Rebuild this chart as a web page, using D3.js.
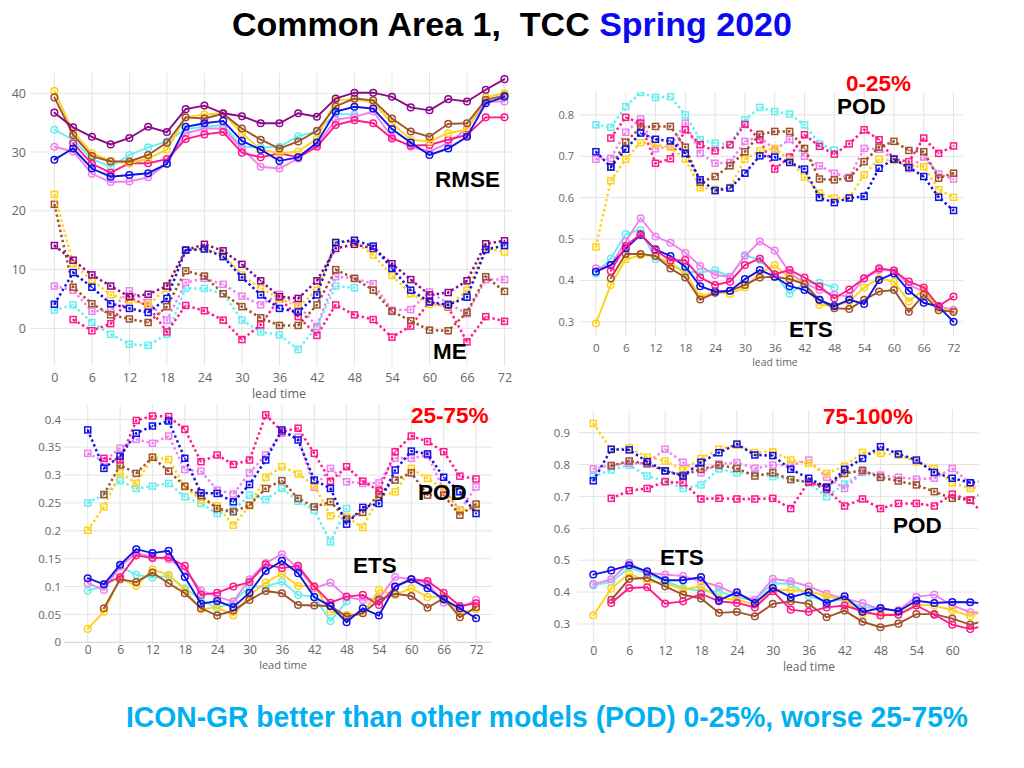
<!DOCTYPE html>
<html><head><meta charset="utf-8">
<script src="https://cdn.jsdelivr.net/npm/d3@7"></script>
<style>body{margin:0;background:#fff}</style>
</head><body>
<svg id="c" width="1024" height="768"></svg>
<script>
// ---------- DATA ----------
const hours  = [0,3,6,9,12,15,18,21,24,27,30,33,36,39,42,45,48,51,54,57,60,63,66,69,72];
const hoursD = [0,3,6,9,12,15,18,21,24,27,30,33,36,39,42,45,48,51,54,57,60,63,66];
const ticksX72 = [0,6,12,18,24,30,36,42,48,54,60,66,72];
const ticksX60 = [0,6,12,18,24,30,36,42,48,54,60];
const ticksA = [0,10,20,30,40];
const ticksB = [0.3,0.4,0.5,0.6,0.7,0.8];
const ticksC = [0,0.05,0.1,0.15,0.2,0.25,0.3,0.35,0.4];
const ticksD = [0.3,0.4,0.5,0.6,0.7,0.8,0.9];

// Panel A: RMSE (solid) and ME (dotted)
const A_rmse_yellow   = [40.4,33.5,29.8,28.5,28.1,28.9,30.4,35.9,36.4,36.6,33.2,30.4,29.8,30.1,32.3,38.8,39.0,38.4,34.9,32.1,31.8,33.2,33.8,39.3,40.0];
const A_rmse_brown    = [39.3,32.9,29.3,28.4,28.4,29.5,31.6,35.9,35.7,36.5,34.0,32.1,30.6,31.8,33.6,37.8,39.1,38.8,35.7,33.5,32.6,34.8,34.9,38.9,39.6];
const A_rmse_purple   = [36.7,34.2,32.6,31.3,32.4,34.3,33.4,37.3,37.9,36.6,36.1,34.9,34.9,36.6,36.0,39.1,40.1,40.1,39.4,37.6,37.1,39.0,38.6,40.6,42.4];
const A_rmse_cyan     = [33.8,32.1,28.8,27.5,29.5,30.8,31.8,33.9,34.3,34.6,30.9,30.8,30.9,32.7,33.5,36.5,36.4,null,null,null,null,null,null,null,null];
const A_rmse_violet   = [30.9,30.1,26.3,24.9,25.0,25.7,28.0,33.2,34.0,34.0,30.6,27.5,27.2,28.9,31.2,35.5,36.0,36.9,32.6,30.9,30.1,31.5,34.0,38.6,38.6];
const A_rmse_blue     = [28.7,30.6,27.2,25.8,26.1,26.4,28.0,34.3,34.9,35.3,31.9,30.4,28.5,29.1,31.6,36.9,37.7,37.4,33.9,31.6,29.5,30.6,32.6,38.3,39.4];
const A_rmse_deeppink = [null,31.5,28.0,26.5,28.1,28.1,28.8,32.2,33.0,33.4,29.9,29.1,29.8,29.1,30.9,34.6,35.4,34.9,32.3,31.1,31.2,32.1,32.9,35.9,35.9];

const A_me_yellow   = [22.8,11.0,8.2,5.7,4.8,4.0,6.8,13.3,13.6,12.5,9.1,6.8,5.1,3.7,6.5,14.7,14.7,12.5,9.0,5.9,4.1,3.7,6.5,13.6,13.0];
const A_me_brown    = [21.1,7.0,4.2,2.3,1.6,1.0,3.7,9.8,8.9,5.9,3.7,1.8,0.5,0.5,4.0,10.0,8.5,6.5,2.9,1.3,-0.3,-0.4,2.7,8.8,6.3];
const A_me_purple   = [14.1,11.6,9.1,7.2,5.4,5.8,7.2,13.3,14.3,13.2,10.9,8.1,5.4,5.1,8.1,13.6,14.3,13.6,11.0,8.3,5.7,6.1,8.1,14.4,14.9];
const A_me_blue     = [4.1,9.5,7.0,4.2,3.4,2.7,5.1,13.3,13.5,12.2,8.7,5.7,3.4,2.8,5.7,14.6,15.0,14.0,10.2,6.5,4.5,4.0,5.3,13.4,14.1];
const A_me_violet   = [7.2,6.5,2.9,3.1,6.4,4.4,1.4,7.8,8.5,7.5,5.5,4.0,5.8,4.0,0.3,8.8,8.5,7.6,3.1,3.2,6.2,4.2,2.5,8.3,8.3];
const A_me_cyan     = [3.1,4.0,1.0,-1.0,-2.7,-2.9,-1.0,6.8,6.8,5.9,1.4,-0.6,-1.1,-3.6,0.3,7.2,6.9,null,null,null,null,null,null,null,null];
const A_me_deeppink = [null,1.5,-0.4,0.8,5.3,3.8,-0.6,3.9,3.0,1.4,-1.9,0.6,5.1,2.0,-1.2,4.0,2.3,1.5,-1.5,0.4,4.5,3.6,-2.3,2.0,1.2];

// Panel B: 0-25%  POD (dotted) and ETS (solid)
const B_pod_cyan     = [0.776,0.770,0.820,0.854,0.842,0.844,0.800,0.740,0.732,0.728,0.788,0.818,0.808,0.802,0.776,0.730,0.715,null,null,null,null,null,null,null,null];
const B_pod_deeppink = [null,0.744,0.794,0.780,0.683,0.694,0.764,0.728,0.713,0.728,0.777,0.740,0.669,0.698,0.752,0.724,0.705,0.730,0.764,0.740,0.693,0.687,0.744,0.707,0.725];
const B_pod_violet   = [0.693,0.695,0.758,0.790,0.718,0.724,0.780,0.707,0.683,0.685,0.736,0.748,0.715,0.741,0.700,0.677,0.659,0.649,0.719,0.717,0.693,0.670,0.698,0.657,0.645];
const B_pod_brown    = [null,0.674,0.734,0.770,0.772,0.772,0.722,0.637,0.651,0.677,0.711,0.753,0.760,0.760,0.719,0.645,0.643,0.647,0.687,0.722,0.736,0.714,0.711,0.647,0.659];
const B_pod_blue     = [0.711,0.674,0.717,0.756,0.741,0.737,0.707,0.643,0.617,0.623,0.659,0.701,0.698,0.685,0.669,0.600,0.588,0.599,0.603,0.671,0.693,0.673,0.651,0.601,0.569];
const B_pod_yellow   = [0.481,0.641,0.693,0.733,0.728,0.722,0.693,0.624,0.620,0.625,0.693,0.713,0.719,0.690,0.650,0.611,0.599,0.600,0.655,0.693,0.690,0.675,0.675,0.619,0.601];

const B_ets_yellow   = [0.296,0.389,0.451,0.461,0.459,0.441,0.417,0.361,0.373,0.367,0.383,0.417,0.437,0.405,0.393,0.341,0.338,0.349,0.383,0.405,0.397,0.349,0.377,0.333,0.324];
const B_ets_brown    = [null,0.405,0.464,0.464,0.459,0.429,0.407,0.354,0.370,0.375,0.389,0.407,0.409,0.403,0.391,0.353,0.333,0.331,0.353,0.373,0.377,0.324,0.365,0.328,0.324];
const B_ets_blue     = [0.421,0.437,0.477,0.510,0.475,0.459,0.433,0.386,0.373,0.375,0.403,0.425,0.409,0.386,0.377,0.353,0.338,0.353,0.343,0.401,0.417,0.375,0.346,0.337,0.300];
const B_ets_cyan     = [0.417,0.453,0.512,0.522,0.451,0.441,0.421,0.419,0.425,0.409,0.461,0.449,0.415,0.368,0.393,0.394,0.383,null,null,null,null,null,null,null,null];
const B_ets_violet   = [0.429,0.437,0.494,0.550,0.506,0.491,0.467,0.435,0.413,0.409,0.459,0.494,0.472,0.419,0.393,0.377,0.365,0.361,0.405,0.425,0.424,0.389,0.373,0.337,0.329];
const B_ets_deeppink = [null,0.423,0.483,0.512,0.473,0.448,0.449,0.407,0.389,0.397,0.437,0.453,0.415,0.425,0.407,0.385,0.357,0.378,0.405,0.429,0.424,0.397,0.383,0.338,0.361];

// Panel C: 25-75%
const C_pod_blue     = [0.381,0.312,0.334,0.375,0.388,0.397,0.330,0.268,0.267,0.252,0.283,0.327,0.381,0.363,0.291,0.276,0.212,0.242,0.249,0.309,0.343,0.338,0.296,0.270,0.231];
const C_pod_deeppink = [null,0.330,0.327,0.398,0.406,0.405,0.382,0.324,0.336,0.319,0.327,0.408,0.378,0.384,0.339,0.289,0.315,0.289,0.272,0.342,0.370,0.360,0.342,0.298,0.293];
const C_pod_violet   = [0.339,0.325,0.348,0.364,0.357,0.370,0.310,0.307,0.273,0.266,0.304,0.336,0.375,0.368,0.278,0.312,0.288,0.285,0.286,0.330,0.330,0.336,0.273,0.237,0.279];
const C_pod_yellow   = [0.201,0.243,0.304,0.285,0.332,0.328,0.279,0.255,0.245,0.210,0.245,0.296,0.315,0.302,0.282,0.227,0.225,0.206,0.261,0.270,0.312,0.294,0.276,0.237,0.240];
const C_pod_brown    = [null,0.265,0.318,0.303,0.332,0.307,0.280,0.263,0.240,0.234,0.246,0.276,0.290,0.258,0.243,0.252,0.221,0.233,0.265,0.291,0.304,0.264,0.264,0.228,0.248];
const C_pod_cyan     = [0.250,0.265,0.290,0.276,0.280,0.285,0.261,0.249,0.231,0.237,0.264,0.256,0.276,0.253,0.237,0.180,0.240,null,null,null,null,null,null,null,null];

const C_ets_blue     = [0.115,0.104,0.139,0.167,0.160,0.164,0.117,0.069,0.074,0.063,0.089,0.128,0.146,0.124,0.081,0.065,0.036,0.061,0.048,0.100,0.113,0.097,0.077,0.061,0.043];
const C_ets_deeppink = [null,0.104,0.117,0.156,0.151,0.152,0.137,0.085,0.089,0.100,0.108,0.140,0.133,0.137,0.100,0.071,0.082,0.085,0.067,0.100,0.113,0.110,0.089,0.065,0.070];
const C_ets_violet   = [0.106,0.094,0.136,0.160,0.153,0.149,0.130,0.093,0.082,0.073,0.113,0.142,0.158,0.133,0.097,0.107,0.081,0.076,0.079,0.117,0.113,0.106,0.071,0.061,0.076];
const C_ets_yellow   = [0.024,0.055,0.115,0.101,0.131,0.121,0.094,0.059,0.063,0.048,0.085,0.107,0.123,0.101,0.101,0.055,0.049,0.052,0.094,0.085,0.097,0.081,0.082,0.052,0.059];
const C_ets_brown    = [null,0.061,0.113,0.108,0.125,0.106,0.088,0.061,0.048,0.057,0.076,0.092,0.088,0.067,0.066,0.065,0.046,0.052,0.076,0.087,0.083,0.062,0.079,0.045,0.063];
const C_ets_cyan     = [0.093,0.100,0.136,0.121,0.116,0.119,0.097,0.077,0.061,0.073,0.100,0.100,0.109,0.085,0.082,0.038,0.073,null,null,null,null,null,null,null,null];

// Panel D: 75-100%
const D_pod_yellow   = [0.929,0.846,0.853,0.823,0.811,0.783,0.819,0.848,0.861,0.838,0.840,0.814,0.804,0.772,0.795,0.838,0.835,0.830,0.809,0.788,0.743,0.725,0.735];
const D_pod_blue     = [0.749,0.848,0.846,0.809,0.780,0.764,0.807,0.837,0.864,0.830,0.828,0.785,0.757,0.728,0.785,0.819,0.856,0.833,0.814,0.775,0.757,0.743,0.750];
const D_pod_brown    = [null,0.796,0.811,0.802,0.780,0.767,0.785,0.798,0.788,0.764,0.774,0.753,0.745,0.730,0.772,0.782,0.760,0.748,0.736,0.715,0.694,0.689,0.720];
const D_pod_violet   = [0.786,0.798,0.804,0.804,0.848,0.807,0.774,0.802,0.806,0.788,0.798,0.798,0.814,0.760,0.725,0.777,0.767,0.760,0.754,0.757,0.788,0.741,0.728];
const D_pod_cyan     = [0.762,0.783,0.798,0.764,0.748,0.725,0.736,0.786,0.774,0.772,0.762,0.753,0.743,0.699,0.739,0.775,0.759,null,null,null,null,null,null];
const D_pod_deeppink = [null,0.694,0.718,0.725,0.746,0.743,0.692,0.694,0.692,0.692,0.694,0.662,0.746,0.722,0.670,0.692,0.662,0.678,0.678,0.670,0.707,0.688,0.630];

const D_ets_blue     = [0.455,0.468,0.484,0.465,0.437,0.437,0.447,0.374,0.399,0.366,0.413,0.384,0.399,0.366,0.387,0.338,0.350,0.340,0.373,0.366,0.369,0.368,0.364];
const D_ets_violet   = [0.425,0.440,0.492,0.460,0.455,0.450,0.434,0.418,0.392,0.376,0.442,0.434,0.418,0.395,0.379,0.366,0.345,0.343,0.385,0.392,0.358,0.337,0.335];
const D_ets_cyan     = [0.421,0.432,0.476,0.458,0.434,0.413,0.403,0.403,0.382,0.376,0.427,0.427,0.387,0.371,0.376,0.353,0.350,null,null,null,null,null,null];
const D_ets_yellow   = [0.327,0.411,0.458,0.434,0.429,0.408,0.418,0.382,0.376,0.361,0.408,0.406,0.403,0.387,0.376,0.331,0.331,0.331,0.361,0.358,0.343,0.324,0.345];
const D_ets_brown    = [null,0.376,0.441,0.445,0.418,0.392,0.380,0.335,0.338,0.324,0.363,0.371,0.363,0.321,0.342,0.307,0.290,0.301,0.331,0.331,0.317,0.298,0.313];
const D_ets_deeppink = [null,0.366,0.413,0.415,0.364,0.371,0.395,0.371,0.366,0.352,0.403,0.345,0.338,0.352,0.358,0.340,0.327,0.329,0.358,0.329,0.298,0.284,0.298];

// ---------- STYLE ----------
const COL = {yellow:'#FFD21A', brown:'#A0522D', purple:'#8B0A8B', cyan:'#66EEF0',
             violet:'#EE82EE', blue:'#1212E6', deeppink:'#FF1A8C'};
const svg = d3.select('#c');
const FONT = '"Open Sans", "DejaVu Sans", sans-serif';
const BOLD = '"Liberation Sans", Arial, sans-serif';

let clipId = 0;
function panel(cfg){
  const x = d3.scaleLinear().domain(cfg.xdom).range([cfg.x0, cfg.x1]);
  const y = d3.scaleLinear().domain(cfg.ydom).range([cfg.y1, cfg.y0]);
  const g = svg.append('g');
  const id = 'clip' + (clipId++);
  svg.append('clipPath').attr('id', id).append('rect')
    .attr('x', cfg.x0).attr('y', cfg.y0).attr('width', cfg.x1 - cfg.x0).attr('height', cfg.y1 - cfg.y0);

  // grid
  g.append('g').selectAll('line').data(cfg.xticks).join('line')
    .attr('x1', d => x(d)).attr('x2', d => x(d)).attr('y1', cfg.y0).attr('y2', cfg.y1)
    .attr('stroke', '#e4e4e4').attr('stroke-width', 1);
  g.append('g').selectAll('line').data(cfg.yticks).join('line')
    .attr('x1', cfg.x0).attr('x2', cfg.x1).attr('y1', d => y(d)).attr('y2', d => y(d))
    .attr('stroke', d => d === 0 ? cfg.zeroColor || '#e4e4e4' : '#e4e4e4').attr('stroke-width', 1);

  // axes
  const ya = g.append('g').attr('transform', `translate(${cfg.yLabelX},0)`)
    .call(d3.axisLeft(y).tickValues(cfg.yticks).tickSize(0).tickPadding(0).tickFormat(cfg.yfmt));
  ya.select('.domain').remove();
  ya.selectAll('text').attr('fill', '#666').style('font-family', FONT).style('font-size', cfg.yfs + 'px');

  const xa = g.append('g').attr('transform', `translate(0,${cfg.xLabelY - 0.35 * cfg.xfs})`)
    .call(d3.axisBottom(x).tickValues(cfg.xticks).tickSize(0).tickPadding(0).tickFormat(d3.format('d')));
  xa.select('.domain').remove();
  xa.selectAll('text').attr('fill', '#666').style('font-family', FONT).style('font-size', cfg.xfs + 'px');

  g.append('text').attr('x', cfg.leadX).attr('y', cfg.leadY).attr('text-anchor', 'middle')
    .attr('dominant-baseline', 'central').attr('fill', '#666')
    .style('font-family', FONT).style('font-size', cfg.leadFs + 'px').text('lead time');

  // series
  const plot = g.append('g').attr('clip-path', `url(#${id})`);
  cfg.series.forEach(s => {
    const pts = s.hours.map((h, i) => ({h, v: s.values[i]})).filter(p => p.v !== null);
    const line = d3.line().x(p => x(p.h)).y(p => y(p.v));
    plot.append('path').datum(pts).attr('d', line).attr('fill', 'none')
      .attr('stroke', COL[s.color])
      .attr('stroke-width', s.dotted ? 2.5 : 1.9)
      .attr('stroke-dasharray', s.dotted ? '2.4,2.8' : null);
    const mk = plot.append('g');
    if (s.dotted) {
      mk.selectAll('rect').data(pts).join('rect')
        .attr('x', p => x(p.h) - 3).attr('y', p => y(p.v) - 3)
        .attr('width', 6).attr('height', 6)
        .attr('fill', 'none').attr('stroke', COL[s.color]).attr('stroke-width', 1.5);
    } else {
      mk.selectAll('circle.o').data(pts).join('circle').attr('class', 'o')
        .attr('cx', p => x(p.h)).attr('cy', p => y(p.v)).attr('r', 3.3)
        .attr('fill', 'none').attr('stroke', COL[s.color]).attr('stroke-width', 1.5);
    }
    mk.selectAll('circle.d').data(pts).join('circle').attr('class', 'd')
      .attr('cx', p => x(p.h)).attr('cy', p => y(p.v)).attr('r', 0.9)
      .attr('fill', COL[s.color]);
  });

  // labels
  cfg.labels.forEach(l => {
    g.append('text').attr('x', l.x).attr('y', l.y).attr('fill', l.color)
      .style('font-family', BOLD).style('font-weight', 'bold').style('font-size', '22.5px').text(l.t);
  });
}

panel({
  x0: 30, x1: 512, y0: 72.7, y1: 366, xdom: [-3.9, 73.2], ydom: [-6.4, 43.5],
  xticks: ticksX72, yticks: ticksA, yfmt: d3.format('d'), yLabelX: 26, yfs: 12.5,
  xLabelY: 377, xfs: 12.5, leadX: 279, leadY: 393.5, leadFs: 12.5,
  series: [
    {hours, values: A_me_cyan, color: 'cyan', dotted: true},
    {hours, values: A_me_deeppink, color: 'deeppink', dotted: true},
    {hours, values: A_me_violet, color: 'violet', dotted: true},
    {hours, values: A_me_brown, color: 'brown', dotted: true},
    {hours, values: A_me_yellow, color: 'yellow', dotted: true},
    {hours, values: A_me_purple, color: 'purple', dotted: true},
    {hours, values: A_me_blue, color: 'blue', dotted: true},
    {hours, values: A_rmse_cyan, color: 'cyan', dotted: false},
    {hours, values: A_rmse_violet, color: 'violet', dotted: false},
    {hours, values: A_rmse_deeppink, color: 'deeppink', dotted: false},
    {hours, values: A_rmse_yellow, color: 'yellow', dotted: false},
    {hours, values: A_rmse_brown, color: 'brown', dotted: false},
    {hours, values: A_rmse_purple, color: 'purple', dotted: false},
    {hours, values: A_rmse_blue, color: 'blue', dotted: false}
  ],
  labels: [{t: 'RMSE', x: 435, y: 187, color: '#000'}, {t: 'ME', x: 433, y: 359, color: '#000'}]
});

panel({
  x0: 580, x1: 963, y0: 91.7, y1: 336.7, xdom: [-3.2, 73.9], ydom: [0.264, 0.856],
  xticks: ticksX72, yticks: ticksB, yfmt: d3.format('.1f'), yLabelX: 574, yfs: 11,
  xLabelY: 347.5, xfs: 11.5, leadX: 775, leadY: 362, leadFs: 10.5,
  series: [
    {hours, values: B_pod_cyan, color: 'cyan', dotted: true},
    {hours, values: B_pod_violet, color: 'violet', dotted: true},
    {hours, values: B_pod_deeppink, color: 'deeppink', dotted: true},
    {hours, values: B_pod_yellow, color: 'yellow', dotted: true},
    {hours, values: B_pod_brown, color: 'brown', dotted: true},
    {hours, values: B_pod_blue, color: 'blue', dotted: true},
    {hours, values: B_ets_cyan, color: 'cyan', dotted: false},
    {hours, values: B_ets_violet, color: 'violet', dotted: false},
    {hours, values: B_ets_yellow, color: 'yellow', dotted: false},
    {hours, values: B_ets_brown, color: 'brown', dotted: false},
    {hours, values: B_ets_blue, color: 'blue', dotted: false},
    {hours, values: B_ets_deeppink, color: 'deeppink', dotted: false}
  ],
  labels: [{t: '0-25%', x: 846, y: 90.5, color: '#FF0000'}, {t: 'POD', x: 837, y: 113.5, color: '#000'},
           {t: 'ETS', x: 789, y: 336.5, color: '#000'}]
});

panel({
  x0: 64, x1: 491.7, y0: 405, y1: 643.4, xdom: [-4.4, 74.9], ydom: [-0.002, 0.4257],
  xticks: ticksX72, yticks: ticksC, yfmt: d => d === 0 ? '0' : String(+d.toFixed(2)), yLabelX: 61, yfs: 11.5,
  zeroColor: '#cfcfcf',
  xLabelY: 650, xfs: 12, leadX: 283, leadY: 664.5, leadFs: 11,
  series: [
    {hours, values: C_pod_cyan, color: 'cyan', dotted: true},
    {hours, values: C_pod_violet, color: 'violet', dotted: true},
    {hours, values: C_pod_yellow, color: 'yellow', dotted: true},
    {hours, values: C_pod_brown, color: 'brown', dotted: true},
    {hours, values: C_pod_deeppink, color: 'deeppink', dotted: true},
    {hours, values: C_pod_blue, color: 'blue', dotted: true},
    {hours, values: C_ets_cyan, color: 'cyan', dotted: false},
    {hours, values: C_ets_violet, color: 'violet', dotted: false},
    {hours, values: C_ets_yellow, color: 'yellow', dotted: false},
    {hours, values: C_ets_brown, color: 'brown', dotted: false},
    {hours, values: C_ets_deeppink, color: 'deeppink', dotted: false},
    {hours, values: C_ets_blue, color: 'blue', dotted: false}
  ],
  labels: [{t: '25-75%', x: 411, y: 423, color: '#FF0000'}, {t: 'POD', x: 418, y: 500, color: '#000'},
           {t: 'ETS', x: 353, y: 573, color: '#000'}]
});

panel({
  x0: 578, x1: 978.3, y0: 410, y1: 643, xdom: [-2.56, 64.35], ydom: [0.2404, 0.971],
  xticks: ticksX60, yticks: ticksD, yfmt: d3.format('.1f'), yLabelX: 570, yfs: 11.5,
  xLabelY: 651, xfs: 12.3, leadX: 809, leadY: 666.5, leadFs: 12,
  series: [
    {hours: hoursD, values: D_pod_cyan, color: 'cyan', dotted: true},
    {hours: hoursD, values: D_pod_violet, color: 'violet', dotted: true},
    {hours: hoursD, values: D_pod_brown, color: 'brown', dotted: true},
    {hours: hoursD, values: D_pod_deeppink, color: 'deeppink', dotted: true},
    {hours: hoursD, values: D_pod_yellow, color: 'yellow', dotted: true},
    {hours: hoursD, values: D_pod_blue, color: 'blue', dotted: true},
    {hours: hoursD, values: D_ets_cyan, color: 'cyan', dotted: false},
    {hours: hoursD, values: D_ets_violet, color: 'violet', dotted: false},
    {hours: hoursD, values: D_ets_yellow, color: 'yellow', dotted: false},
    {hours: hoursD, values: D_ets_brown, color: 'brown', dotted: false},
    {hours: hoursD, values: D_ets_deeppink, color: 'deeppink', dotted: false},
    {hours: hoursD, values: D_ets_blue, color: 'blue', dotted: false}
  ],
  labels: [{t: '75-100%', x: 823, y: 424, color: '#FF0000'}, {t: 'POD', x: 893, y: 533, color: '#000'},
           {t: 'ETS', x: 660, y: 565, color: '#000'}]
});

// title
const title = svg.append('text').attr('x', 232).attr('y', 35.5)
  .style('font-family', BOLD).style('font-weight', 'bold').style('font-size', '34px')
  .style('white-space', 'pre');
title.append('tspan').attr('fill', '#000').text('Common Area 1,  TCC ');
title.append('tspan').attr('fill', '#0A0AF0').text('Spring 2020');

// bottom note
svg.append('text').attr('x', 126).attr('y', 727)
  .attr('textLength', 842).attr('lengthAdjust', 'spacingAndGlyphs')
  .attr('fill', '#00B0F0')
  .style('font-family', BOLD).style('font-weight', 'bold').style('font-size', '29px')
  .text('ICON-GR better than other models (POD) 0-25%, worse 25-75%');
</script>
</body></html>
